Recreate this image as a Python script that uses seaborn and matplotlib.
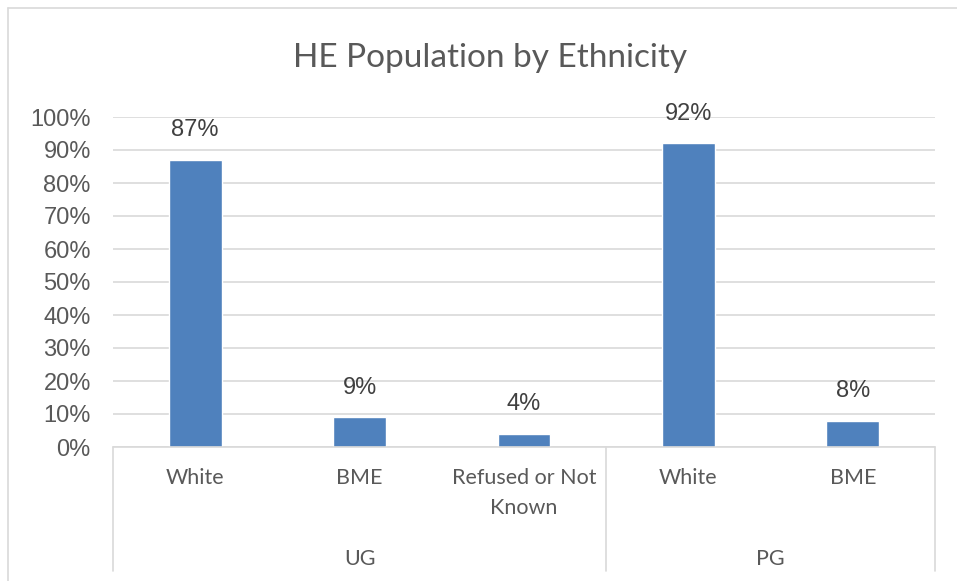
import seaborn as sns
import matplotlib.pyplot as plt
import matplotlib.transforms as mtransforms
import pandas as pd

# data
groups = ["UG", "UG", "UG", "PG", "PG"]
categories = ["White", "BME", "Refused or Not\nKnown", "White", "BME"]
values = [0.87, 0.09, 0.04, 0.92, 0.08]
group_names = ["UG", "PG"]

df = pd.DataFrame({"key": [g + " " + c for g, c in zip(groups, categories)],
                   "value": values})

sns.set_style("white")
plt.rcParams['font.family'] = ['Liberation Sans', 'DejaVu Sans']

fig = plt.figure(figsize=(9.57, 5.81), dpi=100)
ax = fig.add_axes([113 / 957, 1 - 447 / 581, (935 - 113) / 957, 330 / 581])

sns.barplot(data=df, x="key", y="value", color="#4F81BD", saturation=1,
            width=0.32, ax=ax)

ax.set_ylim(0, 1.0)
ax.set_xlim(-0.5, len(values) - 0.5)
ax.set_yticks([i / 10 for i in range(11)])
ax.set_yticklabels([f"{i * 10}%" for i in range(11)], fontsize=17, color="#595959")
ax.tick_params(axis="y", length=0, pad=16)
ax.yaxis.grid(True, color="#D9D9D9", linewidth=1.2)
ax.set_axisbelow(True)
for s in ax.spines.values():
    s.set_visible(False)
ax.set_xticks([])
ax.set_xlabel("")
ax.set_ylabel("")

# data labels
for i, v in enumerate(values):
    ax.text(i, v + 0.09, f"{round(v * 100)}%", ha="center", va="center",
            fontsize=17, color="#404040")

# multi-level category axis
trans = mtransforms.blended_transform_factory(ax.transData, ax.transAxes)
cat_font = ['Lato', 'DejaVu Sans']
line_kw = dict(color="#D9D9D9", linewidth=1.2, clip_on=False, transform=trans)
ax.plot([-0.5, len(values) - 0.5], [0, 0], **line_kw)
bounds = [-0.5]
for i in range(1, len(groups)):
    if groups[i] != groups[i - 1]:
        bounds.append(i - 0.5)
bounds.append(len(groups) - 0.5)
for b in bounds:
    ax.plot([b, b], [0, -0.376], **line_kw)

for i, c in enumerate(categories):
    ax.text(i, -0.064, c, ha="center", va="top", fontsize=15.5, color="#595959",
            family=cat_font, transform=trans, linespacing=1.6)

for g, lo, hi in zip(group_names, bounds[:-1], bounds[1:]):
    ax.text((lo + hi) / 2, -0.34, g, ha="center", va="center", fontsize=15.5,
            color="#595959", family=cat_font, transform=trans)

fig.text(490 / 957, 1 - 58 / 581, "HE Population by Ethnicity",
         ha="center", va="center", fontsize=24, color="#595959", family=cat_font)

# chart border (top and left visible)
fig.add_artist(plt.Line2D([8 / 957, 1], [1 - 8 / 581, 1 - 8 / 581], color="#D9D9D9", lw=1.2))
fig.add_artist(plt.Line2D([8 / 957, 8 / 957], [0, 1 - 8 / 581], color="#D9D9D9", lw=1.2))

fig.savefig("out.png", dpi=100)
